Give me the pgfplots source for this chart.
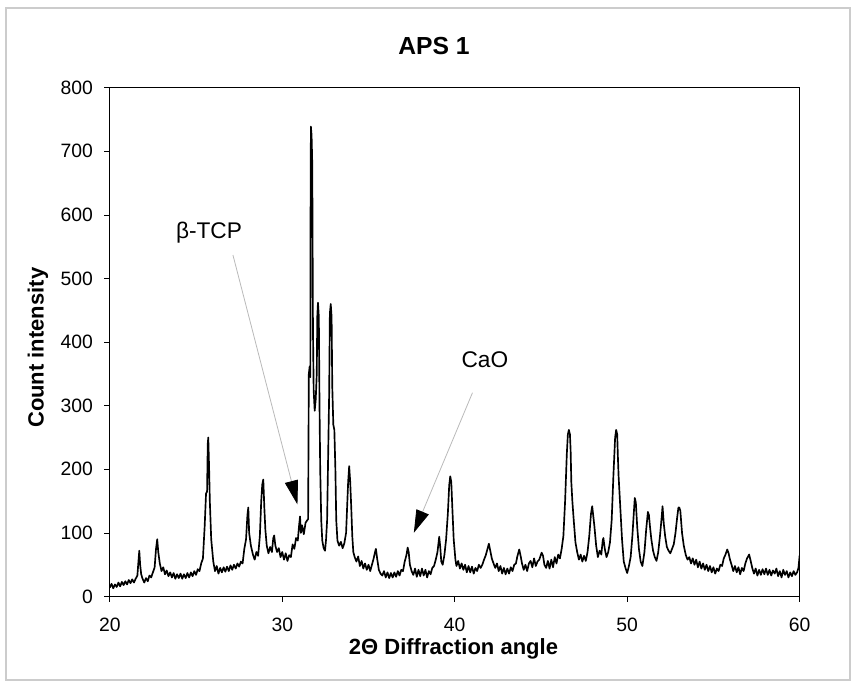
\documentclass[border=0pt]{standalone}
\usepackage{fontspec}
\setmainfont{Liberation Sans}
\usepackage{pgfplots}
\pgfplotsset{compat=1.18}
\usetikzlibrary{arrows.meta}
\begin{document}
\begin{tikzpicture}
\useasboundingbox (-82.35pt,-64.1pt) rectangle (559.65pt,447.4pt);
\begin{axis}[
  scale only axis, width=517.4pt, height=381.6pt,
  xmin=20, xmax=60, ymin=0, ymax=800,
  xtick={20,30,...,60}, ytick={0,100,...,800},
  xtick pos=bottom, ytick pos=left,
  tick align=outside, major tick length=4pt,
  tick style={black, line width=0.6pt},
  axis line style={black, line width=0.8pt},
  /pgf/number format/assume math mode=true,
  ticklabel style={font=\fontsize{14.5}{16}\selectfont},
  xticklabel style={anchor=base, inner sep=0pt, yshift=-21.9pt},
  yticklabel style={anchor=east, inner sep=0pt, xshift=-8.4pt},
  title={APS 1},
  title style={font=\fontsize{18.5}{20}\selectfont\bfseries, at={(0.5,1)}, anchor=base, yshift=19.3pt, xshift=-15.5pt},
  ylabel={Count intensity},
  ylabel style={font=\fontsize{16.5}{18}\selectfont\bfseries, at={(axis description cs:-0.1041,0.489)}, anchor=center},
  xlabel={2Θ Diffraction angle},
  xlabel style={font=\fontsize{16.5}{18}\selectfont\bfseries, inner sep=0pt, at={(axis description cs:0.4982,-0.1135)}, anchor=base},
]
\addplot[black, line width=1.25pt, line join=round, mark=none] coordinates {
(20.0,14) (20.1,20) (20.2,13) (20.3,19) (20.4,15) (20.5,22) (20.6,16) (20.7,23) (20.8,18) (20.9,24)
(21.0,19) (21.1,26) (21.2,21) (21.3,27) (21.4,22) (21.5,28) (21.6,33) (21.66,55) (21.71,72) (21.76,50)
(21.82,35) (21.9,28) (22.0,22) (22.1,29) (22.2,24) (22.3,33) (22.4,30) (22.5,38) (22.6,46) (22.68,75)
(22.75,90) (22.81,70) (22.9,52) (23.0,40) (23.1,46) (23.2,35) (23.3,41) (23.4,32) (23.5,38) (23.6,30)
(23.7,37) (23.8,28) (23.9,35) (24.0,29) (24.1,36) (24.2,28) (24.3,35) (24.4,29) (24.5,37) (24.6,30)
(24.7,38) (24.8,32) (24.9,40) (25.0,34) (25.1,43) (25.2,40) (25.3,52) (25.4,60) (25.5,110) (25.58,162)
(25.64,165) (25.68,240) (25.71,250) (25.76,200) (25.8,150) (25.88,90) (26.0,55) (26.1,40) (26.2,48) (26.3,36)
(26.4,45) (26.5,38) (26.6,46) (26.7,39) (26.8,47) (26.9,40) (27.0,49) (27.1,42) (27.2,50) (27.3,44)
(27.4,52) (27.5,47) (27.6,55) (27.7,52) (27.8,75) (27.9,90) (27.98,128) (28.03,140) (28.08,100) (28.18,80)
(28.3,66) (28.4,58) (28.5,70) (28.6,64) (28.7,95) (28.78,150) (28.84,176) (28.9,184) (28.96,140) (29.02,105)
(29.1,80) (29.2,68) (29.3,78) (29.4,70) (29.48,92) (29.53,96) (29.6,80) (29.7,70) (29.8,76) (29.9,62)
(30.0,70) (30.1,58) (30.2,68) (30.3,56) (30.4,65) (30.5,62) (30.6,82) (30.7,75) (30.8,92) (30.9,88)
(30.97,110) (31.03,126) (31.08,100) (31.15,112) (31.25,98) (31.35,116) (31.45,120) (31.5,122) (31.54,350) (31.59,362)
(31.63,345) (31.64,600) (31.66,739) (31.7,725) (31.74,680) (31.78,420) (31.82,325) (31.88,292) (31.94,310) (32.0,350)
(32.03,440) (32.07,462) (32.12,440) (32.16,300) (32.2,200) (32.26,120) (32.32,88) (32.4,76) (32.48,72) (32.54,90)
(32.6,120) (32.66,220) (32.72,320) (32.76,445) (32.81,460) (32.86,440) (32.9,330) (32.96,270) (33.02,262) (33.08,200)
(33.13,120) (33.2,88) (33.3,80) (33.4,86) (33.5,76) (33.6,84) (33.7,100) (33.76,140) (33.82,180) (33.88,205)
(33.94,180) (34.0,140) (34.06,95) (34.12,70) (34.2,62) (34.3,55) (34.4,63) (34.5,48) (34.6,56) (34.7,44)
(34.8,52) (34.9,42) (35.0,50) (35.1,40) (35.2,50) (35.3,60) (35.38,70) (35.43,75) (35.5,60) (35.6,42)
(35.7,36) (35.8,33) (35.9,40) (36.0,30) (36.1,38) (36.2,29) (36.3,37) (36.4,30) (36.5,38) (36.6,31)
(36.7,40) (36.8,33) (36.9,42) (37.0,40) (37.1,55) (37.2,65) (37.27,77) (37.33,70) (37.4,50) (37.5,40)
(37.6,34) (37.7,44) (37.8,31) (37.9,42) (38.0,32) (38.1,44) (38.2,33) (38.3,42) (38.4,30) (38.5,40)
(38.6,35) (38.7,45) (38.8,48) (38.9,58) (39.0,70) (39.1,94) (39.16,78) (39.22,55) (39.3,50) (39.4,65)
(39.5,90) (39.6,130) (39.68,175) (39.74,189) (39.8,180) (39.86,140) (39.94,90) (40.04,58) (40.1,48) (40.2,56)
(40.3,44) (40.4,52) (40.5,42) (40.6,50) (40.7,38) (40.8,48) (40.9,38) (41.0,47) (41.1,36) (41.2,45)
(41.3,40) (41.4,50) (41.5,45) (41.6,50) (41.7,58) (41.8,65) (41.9,75) (41.98,83) (42.06,72) (42.15,60)
(42.25,52) (42.35,45) (42.45,52) (42.55,40) (42.65,48) (42.75,36) (42.85,45) (42.95,35) (43.05,44) (43.15,36)
(43.25,46) (43.35,40) (43.45,50) (43.55,52) (43.62,62) (43.68,68) (43.74,74) (43.82,64) (43.9,52) (44.0,42)
(44.1,50) (44.2,40) (44.3,52) (44.4,56) (44.5,46) (44.6,60) (44.7,48) (44.8,55) (44.9,58) (45.04,69)
(45.12,64) (45.2,50) (45.3,45) (45.4,56) (45.5,44) (45.6,58) (45.7,46) (45.8,62) (45.9,52) (46.0,66)
(46.1,60) (46.2,75) (46.3,95) (46.4,150) (46.5,225) (46.56,255) (46.62,262) (46.68,255) (46.72,230) (46.76,180)
(46.82,150) (46.9,120) (47.0,85) (47.1,70) (47.2,58) (47.3,66) (47.4,55) (47.5,64) (47.6,56) (47.7,70)
(47.8,95) (47.9,130) (47.97,142) (48.04,125) (48.1,110) (48.2,80) (48.3,62) (48.4,72) (48.5,66) (48.58,88)
(48.62,92) (48.7,75) (48.8,62) (48.9,70) (49.0,85) (49.1,120) (49.2,190) (49.3,250) (49.36,262) (49.42,255)
(49.46,220) (49.5,190) (49.6,140) (49.7,90) (49.8,55) (49.9,45) (50.0,37) (50.1,48) (50.2,62) (50.3,95)
(50.38,130) (50.44,155) (50.5,148) (50.58,110) (50.68,75) (50.78,55) (50.88,48) (51.0,70) (51.1,105) (51.2,133)
(51.26,128) (51.32,110) (51.4,90) (51.5,72) (51.6,62) (51.7,56) (51.8,70) (51.9,95) (52.0,125) (52.05,142)
(52.12,115) (52.2,95) (52.3,78) (52.4,72) (52.5,68) (52.6,75) (52.7,82) (52.8,100) (52.9,125) (52.97,140)
(53.02,140) (53.08,135) (53.18,100) (53.28,80) (53.4,65) (53.5,58) (53.6,62) (53.7,52) (53.8,60) (53.9,50)
(54.0,58) (54.1,46) (54.2,55) (54.3,44) (54.4,52) (54.5,42) (54.6,50) (54.7,40) (54.8,48) (54.9,38)
(55.0,46) (55.1,36) (55.2,44) (55.3,40) (55.4,50) (55.5,48) (55.6,60) (55.7,66) (55.8,74) (55.88,68)
(55.96,58) (56.05,50) (56.15,40) (56.25,48) (56.35,38) (56.45,46) (56.55,35) (56.65,45) (56.75,40) (56.85,52)
(56.95,60) (57.07,66) (57.16,56) (57.25,45) (57.35,36) (57.45,44) (57.55,33) (57.65,42) (57.75,34) (57.85,43)
(57.95,35) (58.05,44) (58.15,34) (58.25,42) (58.35,33) (58.45,41) (58.55,36) (58.65,44) (58.75,32) (58.85,40)
(58.95,30) (59.05,42) (59.15,34) (59.25,40) (59.35,30) (59.45,38) (59.55,32) (59.65,40) (59.75,34) (59.85,38)
(59.93,45) (60.0,65)
};
\draw[gray!55, line width=0.6pt, -{Triangle[length=18pt,width=10pt,black]}] (axis cs:27.14,537) -- (axis cs:30.88,144.7);
\node[font=\fontsize{17}{19}\selectfont] at (axis cs:25.75,572) {β-TCP};
\draw[gray!55, line width=0.6pt, -{Triangle[length=17pt,width=10pt,black]}] (axis cs:41.03,320.5) -- (axis cs:37.63,100.3);
\node[font=\fontsize{17}{19}\selectfont] at (axis cs:41.75,373) {CaO};
\end{axis}
\draw[gray!40, line width=0.8pt] (-77.85pt,-62.6pt) rectangle (555.15pt,441.4pt);
\end{tikzpicture}
\end{document}
